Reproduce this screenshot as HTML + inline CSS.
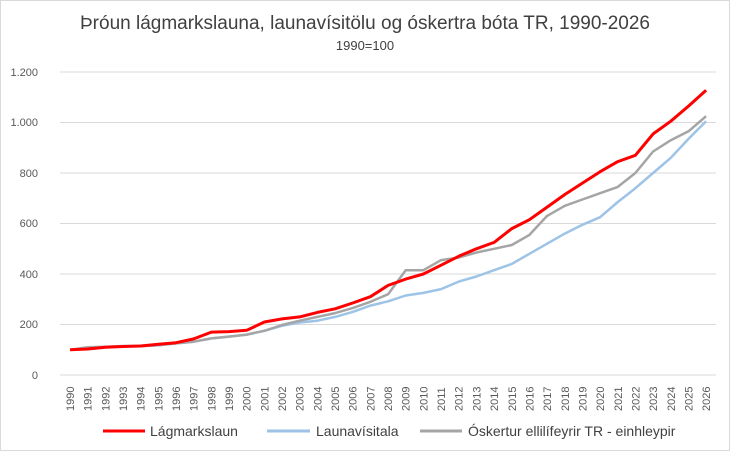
<!DOCTYPE html><html><head><meta charset="utf-8"><style>body{margin:0;background:#fff}svg{display:block;font-family:"Liberation Sans",sans-serif}</style></head><body>
<svg width="730" height="451" xmlns="http://www.w3.org/2000/svg">
<rect x="0.5" y="0.5" width="729" height="450" fill="#fff" stroke="#d9d9d9"/>
<text x="365" y="29" font-size="19" text-anchor="middle" fill="#404040">Þróun lágmarkslauna, launavísitölu og óskertra bóta TR, 1990-2026</text>
<text x="365" y="50" font-size="13" text-anchor="middle" fill="#404040">1990=100</text>
<g stroke="#d9d9d9" stroke-width="1">
<line x1="60" x2="716" y1="72" y2="72"/><line x1="60" x2="716" y1="122.5" y2="122.5"/><line x1="60" x2="716" y1="173" y2="173"/><line x1="60" x2="716" y1="223.5" y2="223.5"/><line x1="60" x2="716" y1="274" y2="274"/><line x1="60" x2="716" y1="324.5" y2="324.5"/><line x1="60" x2="716" y1="375" y2="375"/></g>
<g font-size="11" fill="#595959" text-anchor="end">
<text x="38" y="76">1.200</text><text x="38" y="126">1.000</text><text x="38" y="177">800</text><text x="38" y="227">600</text><text x="38" y="278">400</text><text x="38" y="328">200</text><text x="38" y="379">0</text></g>
<g id="xl" font-size="11" fill="#595959"></g>
<polyline id="b" fill="none" stroke="#9dc3e6" stroke-width="2.5" stroke-linejoin="round"/>
<polyline id="g" fill="none" stroke="#a5a5a5" stroke-width="2.5" stroke-linejoin="round"/>
<polyline id="r" fill="none" stroke="#ff0000" stroke-width="3" stroke-linejoin="round"/>
<line x1="103" x2="145" y1="431" y2="431" stroke="#ff0000" stroke-width="3"/>
<text x="150" y="436" font-size="14" fill="#404040">Lágmarkslaun</text>
<line x1="267" x2="310" y1="431" y2="431" stroke="#9dc3e6" stroke-width="3"/>
<text x="316" y="436" font-size="14" fill="#404040">Launavísitala</text>
<line x1="420" x2="462" y1="431" y2="431" stroke="#a5a5a5" stroke-width="3"/>
<text x="468" y="436" font-size="14" fill="#404040">Óskertur ellilífeyrir TR - einhleypir</text>
</svg>
<script>
var R=[100,103,110,113,115,122,128,143,170,172,177,210,222,230,248,262,285,310,355,380,400,435,470,500,525,580,615,665,715,760,805,845,870,955,1005,1065,1128];
var B=[100,105,110,113,114,118,125,132,145,152,160,175,195,208,215,230,250,275,292,315,325,340,370,390,415,440,480,520,560,595,625,685,740,800,860,935,1005];
var G=[100,110,112,115,115,118,125,132,145,152,160,175,198,215,230,245,265,290,320,415,415,455,465,485,500,515,555,630,670,695,720,745,800,885,930,965,1025];
function p(a){return a.map(function(v,i){return (70+i*17.67).toFixed(1)+","+(375-v*0.2525).toFixed(1)}).join(" ")}
document.getElementById("r").setAttribute("points",p(R));
document.getElementById("b").setAttribute("points",p(B));
document.getElementById("g").setAttribute("points",p(G));
var s="";for(var i=0;i<37;i++){var x=70+i*17.67+4;s+='<text transform="translate('+x.toFixed(1)+',411) rotate(-90)">'+(1990+i)+'</text>';}
document.getElementById("xl").innerHTML=s;
</script>
</body></html>
